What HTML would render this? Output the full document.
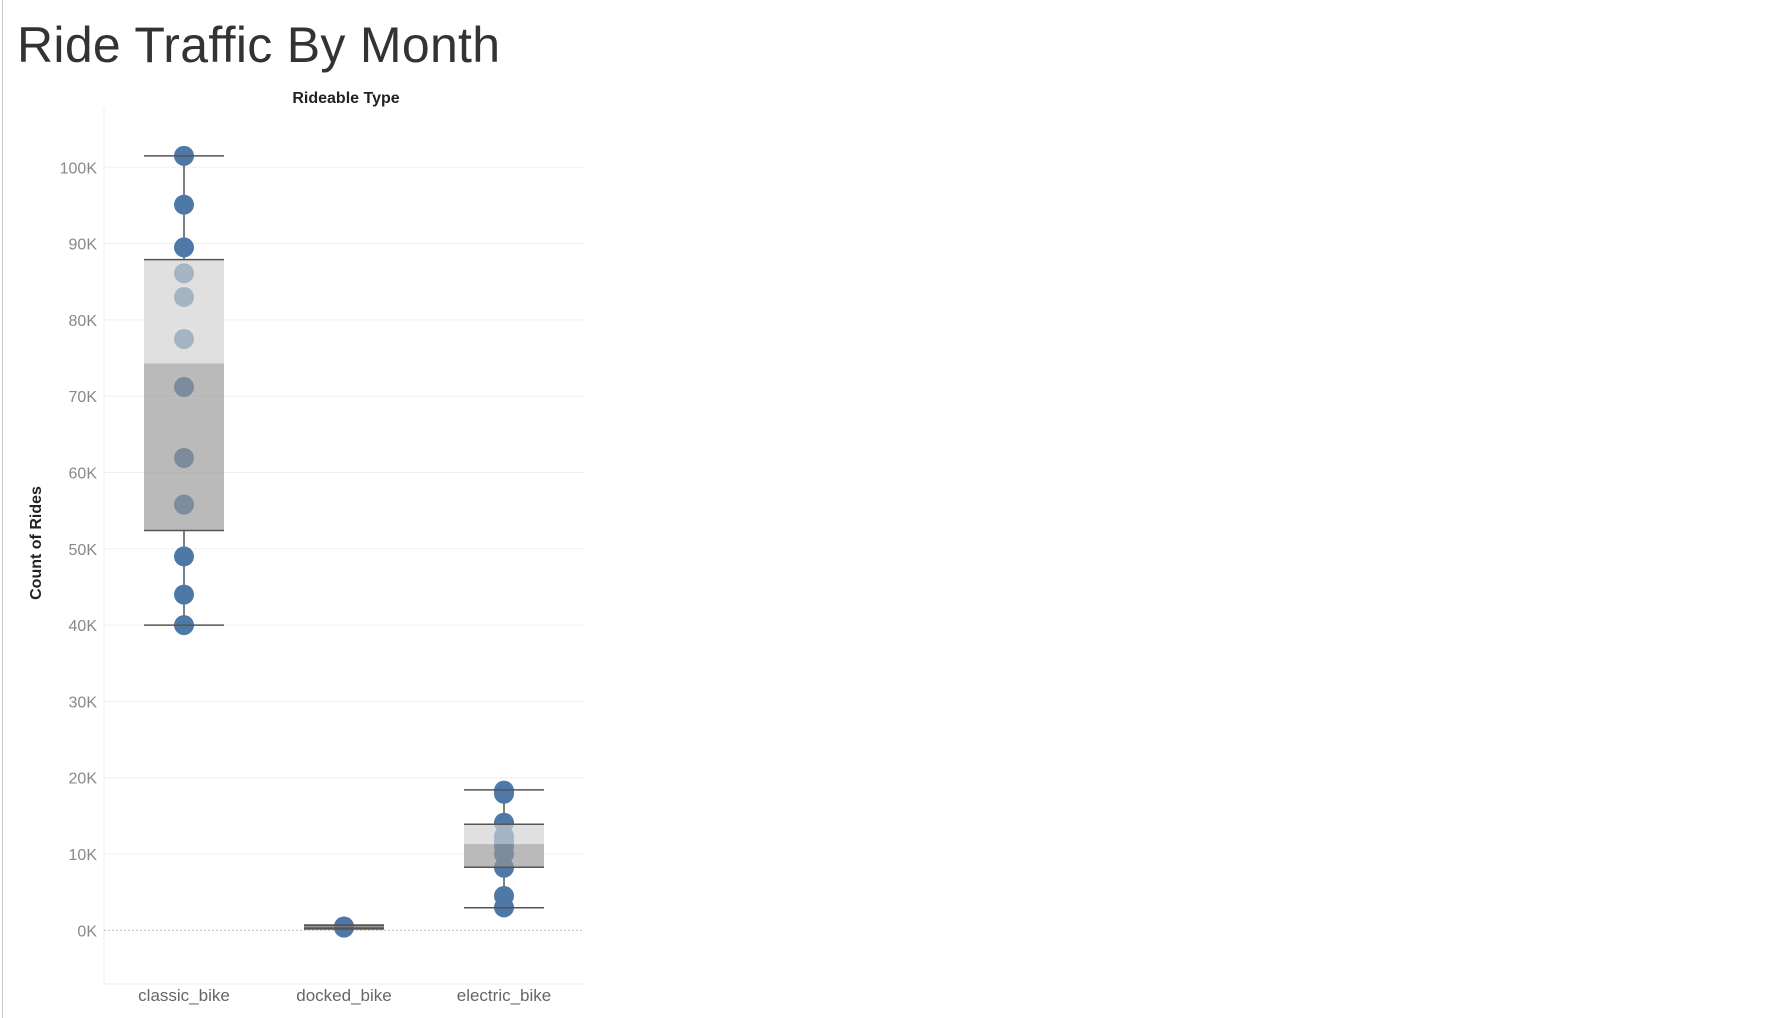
<!DOCTYPE html>
<html><head><meta charset="utf-8"><style>
body{margin:0;background:#fff;width:1770px;height:1018px;overflow:hidden;font-family:"Liberation Sans",sans-serif}
#frame{position:absolute;left:2px;top:0;width:1px;height:1018px;background:#c8c8c8}
h1{position:absolute;left:17px;top:16px;margin:0;font-weight:normal;font-size:50px;color:#333;letter-spacing:0.3px}
</style></head><body>
<div id="frame"></div>
<h1>Ride Traffic By Month</h1>
<svg id="chart" width="1770" height="1018" style="position:absolute;left:0;top:0"></svg>
<script>
const categories=["classic_bike","docked_bike","electric_bike"];
const classicPts=[101.5,95.1,89.5,86.1,83.0,77.5,71.2,61.9,55.8,49.0,44.0,40.0];
const dockedPts=[0.43,0.5,0.35];
const electricPts=[18.3,17.9,14.1,12.3,11.8,11.0,10.0,8.2,4.5,3.0];
const points=[classicPts,dockedPts,electricPts];
// [whiskerLow, q1, median, q3, whiskerHigh] in thousands
const boxStats=[[40.0,52.4,74.3,87.9,101.5],[0.17,0.3,0.45,0.6,0.7],[2.96,8.26,11.3,13.9,18.4]];
const yTicks=[0,10,20,30,40,50,60,70,80,90,100];
const yTickLabels=["0K","10K","20K","30K","40K","50K","60K","70K","80K","90K","100K"];

const NS="http://www.w3.org/2000/svg";
const svg=document.getElementById('chart');
const L=104,R=584,T=108,B=984;
const y=v=>930.3-v*7.63;
const paneW=(R-L)/categories.length;
const x=i=>L+paneW*(i+0.5);
function mk(t,a){const e=document.createElementNS(NS,t);for(const k in a)e.setAttribute(k,a[k]);svg.appendChild(e);return e;}

let e;
e=mk('line',{x1:L,y1:T,x2:L,y2:B,stroke:'#ececec'});


e=mk('line',{x1:L,y1:B,x2:R,y2:B,stroke:'#ececec'});


yTicks.forEach((v,i)=>{
  if(v!==0){
    e=mk('line',{x1:L,y1:y(v),x2:R,y2:y(v),stroke:'#efefef'});
    
    
  }
  e=mk('text',{x:97,y:y(v)+6,'text-anchor':'end','font-size':'16',fill:'#888'});
  e.textContent=yTickLabels[i];
  
  
});
e=mk('line',{x1:L,y1:y(0),x2:R,y2:y(0),stroke:'#bbb','stroke-dasharray':'2,2'});


for(let i=1;i<categories.length;i++){
  e=mk('line',{x1:L+paneW*i,y1:B,x2:L+paneW*i,y2:B-2,stroke:'#ececec'});
  
  
}
e=mk('text',{x:346,y:103,'text-anchor':'middle','font-size':'16','font-weight':'bold',fill:'#222'});
e.textContent='Rideable Type';


e=mk('text',{x:0,y:0,'text-anchor':'middle','font-size':'16','font-weight':'bold',fill:'#222',transform:'translate(41,543) rotate(-90)'});
e.textContent='Count of Rides';



categories.forEach((c,i)=>{
  const cx=x(i),s=boxStats[i],hw=40;
  e=mk('line',{x1:cx,y1:y(s[4]),x2:cx,y2:y(s[3]),stroke:'#555','stroke-width':1.5});
  
  
  e=mk('line',{x1:cx,y1:y(s[1]),x2:cx,y2:y(s[0]),stroke:'#555','stroke-width':1.5});
  
  
  points[i].forEach(v=>{
    e=mk('circle',{cx:cx,cy:y(v),r:10,fill:'#4e79a7'});
    
    
  });
  e=mk('rect',{x:cx-hw,y:y(s[3]),width:hw*2,height:y(s[2])-y(s[3]),fill:'rgba(209,209,209,0.67)'});
  
  
  e=mk('rect',{x:cx-hw,y:y(s[2]),width:hw*2,height:y(s[1])-y(s[2]),fill:'rgba(150,150,150,0.66)'});
  
  
  [s[0],s[1],s[3],s[4]].forEach(v=>{
    e=mk('line',{x1:cx-hw,y1:y(v),x2:cx+hw,y2:y(v),stroke:'#555','stroke-width':1.5});
    
    
  });
  e=mk('text',{x:cx,y:1001,'text-anchor':'middle','font-size':'17',fill:'#666'});
  e.textContent=c;
  
  
});
</script>
</body></html>
